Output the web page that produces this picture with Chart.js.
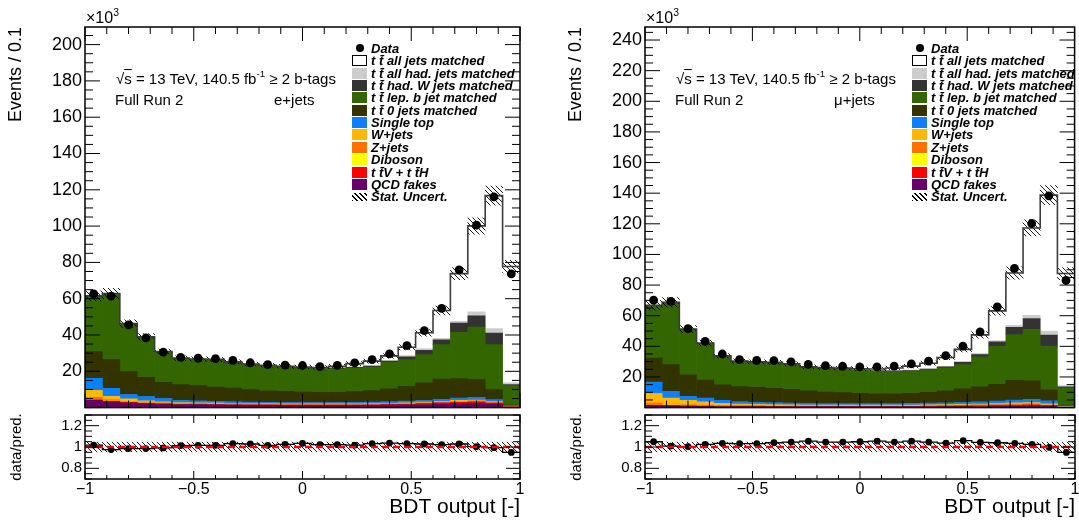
<!DOCTYPE html>
<html><head><meta charset="utf-8">
<script src="https://cdn.jsdelivr.net/npm/chart.js@4.4.1/dist/chart.umd.min.js"></script>
<style>
html,body{margin:0;padding:0;background:#fff}
#wrap{position:relative;width:1079px;height:525px;overflow:hidden;font-family:'Liberation Sans',Arial,Helvetica,sans-serif;color:#000}
canvas{position:absolute}
.t{position:absolute;white-space:nowrap;line-height:1;font-size:15px}
.leg{position:absolute;white-space:nowrap;font-weight:bold;font-style:italic;font-size:13px;line-height:13px}
.box{position:absolute;width:15px;height:11px;box-sizing:border-box}
sup{font-size:65%;line-height:0;position:relative;top:-0.1em;vertical-align:super}
</style></head>
<body><div id="wrap">
<canvas id="mainL" width="540" height="412" style="left:0;top:0;width:540px;height:412px"></canvas>
<canvas id="ratioL" width="540" height="115" style="left:0;top:410px;width:540px;height:115px"></canvas>
<canvas id="mainR" width="519" height="412" style="left:560px;top:0;width:519px;height:412px"></canvas>
<canvas id="ratioR" width="519" height="115" style="left:560px;top:410px;width:519px;height:115px"></canvas>
</div>
<script>
// ---------------- data (values in 10^3 events) ----------------
const BIN_EDGES = [-1,-0.92,-0.84,-0.76,-0.68,-0.6,-0.52,-0.44,-0.36,-0.28,-0.2,-0.12,-0.04,0.04,0.12,0.2,0.28,0.36,0.44,0.52,0.6,0.68,0.76,0.84,0.92,1];
const X_TICKS = [-1,-0.5,0,0.5,1];
const Y_TICKS_EJ = [20,40,60,80,100,120,140,160,180,200];
const Y_TICKS_MJ = [20,40,60,80,100,120,140,160,180,200,220,240];
const RATIO_TICKS = [0.8,1,1.2];

// e+jets
const DATA_EJ  = [62.7,61.4,45.6,38.4,30.6,27.7,27.2,27.0,26.0,24.7,23.7,23.4,23.2,22.6,23.3,24.6,26.4,29.6,34.2,42.4,54.7,75.9,100.5,116.1,73.7];
const RATIO_EJ = [1.018,0.976,0.985,0.985,0.991,1.013,1.016,1.016,1.031,1.028,1.016,1.025,1.034,1.022,1.022,1.018,1.031,1.037,1.031,1.028,1.022,1.028,1.004,0.994,0.949];
const UNC_EJ   = [0.045,0.045,0.045,0.045,0.045,0.045,0.045,0.045,0.045,0.045,0.045,0.045,0.045,0.045,0.045,0.045,0.045,0.045,0.045,0.045,0.045,0.045,0.045,0.045,0.045];
const EJ_QCD  = [4.0,3.2,2.6,2.2,1.9,1.7,1.6,1.5,1.4,1.3,1.3,1.2,1.2,1.2,1.2,1.2,1.3,1.4,1.5,1.7,2.0,2.3,2.5,2.0,0.3];
const EJ_TTVH = [0.4,0.4,0.3,0.3,0.3,0.3,0.3,0.3,0.3,0.3,0.3,0.3,0.3,0.3,0.3,0.3,0.4,0.4,0.5,0.6,0.7,0.8,0.8,0.6,0.1];
const EJ_DIB  = [0.2,0.15,0.12,0.1,0.1,0.08,0.08,0.08,0.07,0.07,0.07,0.07,0.07,0.07,0.07,0.07,0.07,0.07,0.07,0.08,0.08,0.08,0.08,0.06,0.02];
const EJ_ZJ   = [1.0,0.7,0.5,0.4,0.35,0.3,0.28,0.26,0.25,0.24,0.23,0.22,0.22,0.22,0.22,0.22,0.23,0.24,0.25,0.27,0.3,0.32,0.33,0.25,0.04];
const EJ_WJ   = [3.9,1.8,1.3,0.7,0.5,0.4,0.35,0.33,0.3,0.3,0.28,0.26,0.26,0.26,0.26,0.27,0.28,0.3,0.32,0.35,0.4,0.45,0.45,0.35,0.05];
const EJ_ST   = [6.6,4.35,2.4,2.4,1.85,1.2,1.1,1.0,1.0,0.9,0.75,0.75,0.75,0.75,0.75,0.85,0.8,0.9,0.9,0.9,1.1,1.35,1.55,1.15,0.6];
const EJ_TT0  = [14.7,15.8,12.6,10.6,8.9,8.7,8.4,7.9,7.5,6.8,6.5,6.2,5.8,5.6,5.6,5.9,6.3,7.0,8.2,9.7,11.2,10.7,9.7,5.5,0.3];
const EJ_TTB  = [30.3,36.0,26.1,21.95,16.65,14.25,14.35,14.8,14.0,13.65,13.4,13.25,13.1,12.8,13.1,13.0,13.0,14.7,14.7,15.6,18.9,25.5,29.0,24.8,10.7];
const EJ_TTW  = [0.2,0.2,0.15,0.15,0.15,0.15,0.15,0.15,0.15,0.15,0.2,0.2,0.3,0.3,0.3,0.4,0.5,0.6,1.5,2.4,2.7,5.1,6.2,6.4,0.6];
const EJ_TTH  = [0.2,0.2,0.15,0.1,0.1,0.1,0.1,0.1,0.1,0.1,0.1,0.1,0.2,0.2,0.2,0.2,0.3,0.3,0.7,0.9,0.8,0.9,2.1,2.4,0.9];
const EJ_TTA  = [0.1,0.1,0.1,0.1,0.1,0.1,0.1,0.15,0.15,0.2,0.2,0.25,0.2,0.4,0.8,1.8,2.4,2.6,4.6,8.7,15.3,26.3,47.4,73.3,64.1];

// mu+jets
const DATA_MJ  = [70.1,69.4,51.5,43.3,35.0,31.3,30.8,30.7,29.9,28.2,27.4,27.0,26.6,26.6,27.1,28.6,30.3,33.9,40.2,49.5,65.7,90.9,120.2,138.3,83.0];
const RATIO_MJ = [1.049,1.009,1.004,1.025,1.034,1.031,1.031,1.040,1.046,1.055,1.046,1.046,1.049,1.055,1.046,1.055,1.046,1.037,1.059,1.043,1.040,1.034,1.025,0.997,0.949];
const UNC_MJ   = [0.045,0.045,0.045,0.045,0.045,0.045,0.045,0.045,0.045,0.045,0.045,0.045,0.045,0.045,0.045,0.045,0.045,0.045,0.045,0.045,0.045,0.045,0.045,0.045,0.045];
const MJ_QCD  = [1.3,1.1,0.9,0.8,0.7,0.6,0.6,0.55,0.5,0.5,0.5,0.5,0.5,0.5,0.5,0.5,0.55,0.6,0.65,0.7,0.8,0.9,1.0,0.8,0.15];
const MJ_TTVH = [0.5,0.45,0.35,0.35,0.35,0.35,0.35,0.35,0.35,0.35,0.35,0.35,0.35,0.35,0.35,0.4,0.45,0.5,0.6,0.7,0.8,0.95,1.0,0.75,0.1];
const MJ_DIB  = [0.25,0.18,0.14,0.12,0.1,0.09,0.09,0.09,0.08,0.08,0.08,0.08,0.08,0.08,0.08,0.08,0.08,0.08,0.08,0.09,0.09,0.09,0.09,0.07,0.02];
const MJ_ZJ   = [0.9,0.6,0.45,0.35,0.3,0.27,0.25,0.23,0.22,0.21,0.2,0.2,0.2,0.2,0.2,0.2,0.21,0.22,0.23,0.25,0.28,0.3,0.3,0.23,0.04];
const MJ_WJ   = [6.25,3.95,2.95,2.1,1.3,1.0,0.8,0.7,0.6,0.55,0.5,0.45,0.45,0.45,0.45,0.45,0.5,0.5,0.55,0.6,0.7,0.8,0.85,0.65,0.1];
const MJ_ST   = [7.4,4.4,2.6,2.5,2.0,1.6,1.4,1.3,1.2,1.1,1.0,1.0,1.0,1.0,1.0,1.05,1.1,1.15,1.25,1.4,1.6,1.9,2.2,1.9,0.7];
const MJ_TT0  = [15.8,17.4,14.2,11.7,10.05,9.8,9.8,9.4,9.05,8.1,7.55,7.2,6.8,6.6,6.6,6.7,7.1,7.95,8.85,9.85,11.0,12.85,12.05,7.4,0.5];
const MJ_TTB  = [33.9,40.2,29.3,23.95,18.65,16.3,16.2,16.45,16.15,15.2,15.3,15.1,14.9,14.6,14.5,14.4,14.6,15.0,15.8,19.5,24.8,29.9,33.5,28.3,11.3];
const MJ_TTW  = [0.2,0.2,0.15,0.15,0.15,0.15,0.15,0.15,0.15,0.2,0.2,0.25,0.3,0.3,0.3,0.4,0.5,0.6,1.6,1.5,2.8,4.8,7.2,7.2,0.6];
const MJ_TTH  = [0.2,0.2,0.15,0.1,0.1,0.1,0.1,0.1,0.1,0.1,0.1,0.15,0.2,0.2,0.2,0.3,0.3,0.4,0.6,0.9,0.9,1.3,2.1,2.6,0.9];
const MJ_TTA  = [0.1,0.1,0.1,0.1,0.1,0.15,0.15,0.2,0.2,0.3,0.4,0.5,0.6,0.9,1.7,2.6,3.6,5.7,7.8,12.0,19.4,34.1,57.0,88.8,73.1];

const LEGEND_LABELS = ['Data','t t\u0304 all jets matched','t t\u0304 all had. jets matched','t t\u0304 had. W jets matched','t t\u0304 lep. b jet matched','t t\u0304 0 jets matched','Single top','W+jets','Z+jets','Diboson','t t\u0304V + t t\u0304H','QCD fakes','Stat. Uncert.'];

// ---------------- styles ----------------
const F = "'Liberation Sans', Arial, Helvetica, sans-serif";
const COL = {QCD:'#660066', TTVH:'#ff0000', DIB:'#ffff00', ZJ:'#ff7000', WJ:'#ffb800', ST:'#0a80ff',
             TT0:'#333300', TTB:'#336600', TTW:'#333333', TTH:'#cccccc', TTA:'#ffffff'};
const LEG_STYLE = [{k:'dot'},{k:'box',c:COL.TTA,b:true},{k:'box',c:COL.TTH},{k:'box',c:COL.TTW},{k:'box',c:COL.TTB},{k:'box',c:COL.TT0},
  {k:'box',c:COL.ST},{k:'box',c:COL.WJ},{k:'box',c:COL.ZJ},{k:'box',c:COL.DIB},{k:'box',c:COL.TTVH},{k:'box',c:COL.QCD},{k:'hatch'}];

const centers = BIN_EDGES.slice(0,-1).map((e,i)=>(e+BIN_EDGES[i+1])/2);

function mkPattern(ctx){
  const c=document.createElement('canvas'); c.width=5; c.height=5;
  const g=c.getContext('2d'); g.strokeStyle='#000'; g.lineWidth=0.9;
  g.beginPath(); g.moveTo(-1,-1); g.lineTo(6,6); g.moveTo(-1,4); g.lineTo(1,6); g.moveTo(4,-1); g.lineTo(6,1); g.stroke();
  return ctx.createPattern(c,'repeat');
}

const frame = {
  id:'frame',
  afterDraw(chart, args, o){
    const {ctx, chartArea:a, scales:{x,y}} = chart;
    ctx.save(); ctx.strokeStyle='#000'; ctx.lineWidth=1; ctx.beginPath();
    const isMaj=(v,m)=>Math.abs(v/m-Math.round(v/m))<1e-6;
    let k0=Math.ceil(y.min/o.yMinor-1e-6);
    for(let k=k0;;k++){const v=k*o.yMinor; if(v>y.max+1e-9)break; const p=y.getPixelForValue(v);
      const L=isMaj(v,o.yMajor)?o.yLenMaj:o.yLenMin; ctx.moveTo(a.left,p);ctx.lineTo(a.left+L,p);ctx.moveTo(a.right,p);ctx.lineTo(a.right-L,p);}
    k0=Math.ceil(x.min/o.xMinor-1e-6);
    for(let k=k0;;k++){const v=k*o.xMinor; if(v>x.max+1e-9)break; const p=x.getPixelForValue(v);
      const L=isMaj(v,o.xMajor)?o.xLenMaj:o.xLenMin; ctx.moveTo(p,a.bottom);ctx.lineTo(p,a.bottom-L);ctx.moveTo(p,a.top);ctx.lineTo(p,a.top+L);}
    ctx.stroke();
    ctx.lineWidth=1.5; ctx.strokeRect(a.left,a.top,a.right-a.left,a.bottom-a.top);
    ctx.restore();
  }
};

function mainChart(id, comps, data, unc, yMax, yTicks, padRight){
  const ctx=document.getElementById(id).getContext('2d');
  const total=centers.map((_,i)=>comps.reduce((s,c)=>s+c.v[i],0));
  const ds=comps.map(c=>({type:'bar',label:c.n,data:c.v.map((v,i)=>({x:centers[i],y:v})),backgroundColor:c.col,borderWidth:0,stack:'mc',order:10,categoryPercentage:1,barPercentage:1}));
  ds.push({type:'bar',label:'Stat. Uncert.',data:total.map((t,i)=>({x:centers[i],y:[t*(1-unc[i]),t*(1+unc[i])]})),backgroundColor:mkPattern(ctx),borderWidth:0,stack:'band',grouped:false,order:5,categoryPercentage:1,barPercentage:1});
  ds.push({type:'line',label:'total',data:BIN_EDGES.map((e,i)=>({x:e,y:total[Math.min(i,total.length-1)]})),stepped:true,borderColor:'#3c3c3c',borderWidth:1.6,pointRadius:0,fill:false,stack:'s1',order:3});
  ds.push({type:'line',label:'Data',data:data.map((v,i)=>({x:centers[i],y:v})),showLine:false,pointRadius:4.4,pointBackgroundColor:'#000',pointBorderWidth:0,stack:'s2',order:1});
  return new Chart(ctx,{type:'bar',data:{datasets:ds},plugins:[frame],options:{
    responsive:false,animation:false,devicePixelRatio:1,events:[],
    layout:{padding:{left:0,top:27,right:padRight,bottom:4}},
    plugins:{legend:{display:false},tooltip:{enabled:false},
      frame:{yMinor:5,yMajor:20,yLenMaj:15,yLenMin:8,xMinor:0.1,xMajor:0.5,xLenMaj:14,xLenMin:7}},
    scales:{
      x:{type:'linear',min:-1,max:1,stacked:true,display:false,offset:false,afterBuildTicks:s=>{s.ticks=X_TICKS.map(v=>({value:v}));}},
      y:{type:'linear',min:0,max:yMax,stacked:true,afterBuildTicks:s=>{s.ticks=yTicks.map(v=>({value:v}));},
         afterFit:s=>{s.width=85;s.paddingTop=0;s.paddingBottom=0;},
         grid:{display:false,drawTicks:false},border:{display:false},
         ticks:{font:{family:F,size:18},color:'#000',padding:3,callback:v=>String(v)},
         title:{display:true,text:'Events / 0.1',align:'end',font:{family:F,size:18},color:'#000',padding:{top:5,bottom:0}}}
    }}});
}

function ratioChart(id, ratio, unc, padRight){
  const ctx=document.getElementById(id).getContext('2d');
  const ds=[];
  ds.push({type:'bar',label:'band',data:unc.map((u,i)=>({x:centers[i],y:[1-u,1+u]})),backgroundColor:mkPattern(ctx),borderWidth:0,order:5,categoryPercentage:1,barPercentage:1});
  ds.push({type:'line',label:'ratio line',data:BIN_EDGES.map((e,i)=>({x:e,y:ratio[Math.min(i,ratio.length-1)]})),stepped:true,borderColor:'#000',borderWidth:1.3,pointRadius:0,fill:false,order:3});
  ds.push({type:'line',label:'data/pred.',data:ratio.map((v,i)=>({x:centers[i],y:v})),showLine:false,pointRadius:3.4,pointBackgroundColor:'#000',pointBorderWidth:0,order:2});
  ds.push({type:'line',label:'unity',data:[{x:-1,y:1},{x:1,y:1}],borderColor:'#ff0000',borderWidth:2.6,borderDash:[7,4],pointRadius:0,fill:false,order:0});
  return new Chart(ctx,{type:'bar',data:{datasets:ds},plugins:[frame],options:{
    responsive:false,animation:false,devicePixelRatio:1,events:[],
    layout:{padding:{left:0,top:5,right:padRight,bottom:0}},
    plugins:{legend:{display:false},tooltip:{enabled:false},
      frame:{yMinor:0.05,yMajor:0.2,yLenMaj:14,yLenMin:7,xMinor:0.1,xMajor:0.5,xLenMaj:8,xLenMin:4}},
    scales:{
      x:{type:'linear',min:-1,max:1,offset:false,afterBuildTicks:s=>{s.ticks=X_TICKS.map(v=>({value:v}));},
         afterFit:s=>{s.height=46;s.paddingLeft=0;s.paddingRight=0;},
         grid:{display:false,drawTicks:false},border:{display:false},
         ticks:{font:{family:F,size:16},color:'#000',padding:1,autoSkip:false,maxRotation:0,callback:v=>v<0?'\u2212'+Math.abs(v):String(v)},
         title:{display:true,text:'BDT output [-]',align:'end',font:{family:F,size:21},color:'#000',padding:{top:0,bottom:5}}},
      y:{type:'linear',min:0.7,max:1.3,afterBuildTicks:s=>{s.ticks=RATIO_TICKS.map(v=>({value:v}));},
         afterFit:s=>{s.width=85;s.paddingTop=0;s.paddingBottom=0;},
         grid:{display:false,drawTicks:false},border:{display:false},
         ticks:{font:{family:F,size:15},color:'#000',padding:3,callback:v=>v===1?'1':v.toFixed(1)},
         title:{display:true,text:'data/pred.',align:'center',font:{family:F,size:15},color:'#000',padding:{top:8,bottom:0}}}
    }}});
}

const COMPONENTS = {
  EJ:[EJ_QCD,EJ_TTVH,EJ_DIB,EJ_ZJ,EJ_WJ,EJ_ST,EJ_TT0,EJ_TTB,EJ_TTW,EJ_TTH,EJ_TTA],
  MJ:[MJ_QCD,MJ_TTVH,MJ_DIB,MJ_ZJ,MJ_WJ,MJ_ST,MJ_TT0,MJ_TTB,MJ_TTW,MJ_TTH,MJ_TTA]
};
const STACK_NAMES = ['QCD fakes','ttV + ttH','Diboson','Z+jets','W+jets','Single top','tt 0 jets matched','tt lep. b jet matched','tt had. W jets matched','tt all had. jets matched','tt all jets matched'];
const STACK_COLORS = [COL.QCD,COL.TTVH,COL.DIB,COL.ZJ,COL.WJ,COL.ST,COL.TT0,COL.TTB,COL.TTW,COL.TTH,COL.TTA];
function comps(key){ return COMPONENTS[key].map((v,i)=>({n:STACK_NAMES[i],v:v,col:STACK_COLORS[i]})); }

mainChart('mainL', comps('EJ'), DATA_EJ, UNC_EJ, 209.7, Y_TICKS_EJ, 20);
ratioChart('ratioL', RATIO_EJ, UNC_EJ, 20);
mainChart('mainR', comps('MJ'), DATA_MJ, UNC_MJ, 248.5, Y_TICKS_MJ, 1);
ratioChart('ratioR', RATIO_MJ, UNC_MJ, 1);

// ---------------- text overlays & legends ----------------
const wrap=document.getElementById('wrap');
function add(html, cls, css){const d=document.createElement('div'); d.className=cls; d.innerHTML=html; Object.assign(d.style,css); wrap.appendChild(d); return d;}
[[0,'e+jets'],[560,'\u03bc+jets']].forEach(([dx,chan])=>{
  add('\u00d710<sup>3</sup>','t',{left:(86+dx)+'px',top:'10px',fontSize:'16px'});
  add('\u221a<span style="text-decoration:overline">s</span> = 13 TeV, 140.5 fb<sup>-1</sup> \u2265 2 b-tags','t',{left:(116+dx)+'px',top:'71px'});
  add('Full Run 2','t',{left:(115+dx)+'px',top:'92px'});
  add(chan,'t',{left:(274+dx)+'px',top:'92px'});
  LEGEND_LABELS.forEach((lab,i)=>{
    const cy=48.3+12.37*i, st=LEG_STYLE[i];
    if(st.k==='dot'){add('','box',{left:(356+dx)+'px',top:(cy-4)+'px',width:'8px',height:'8px',borderRadius:'50%',background:'#000'});}
    else if(st.k==='hatch'){add('','box',{left:(352+dx)+'px',top:(cy-4)+'px',height:'8px',background:'repeating-linear-gradient(45deg,#000 0 1px,transparent 1px 3.5px)'});}
    else {add('','box',{left:(352+dx)+'px',top:(cy-5.5)+'px',background:st.c,border:st.b?'1px solid #000':'none'});}
    add(lab,'leg',{left:(371+dx)+'px',top:(cy-6.4)+'px'});
  });
});
</script></body></html>
